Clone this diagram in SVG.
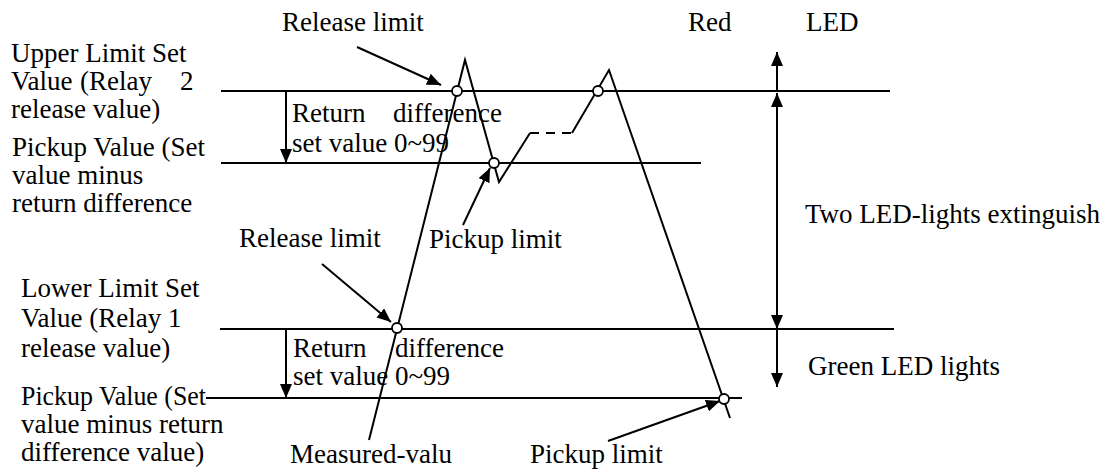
<svg xmlns="http://www.w3.org/2000/svg" width="1110" height="472" viewBox="0 0 1110 472">
<defs>
<marker id="ah" viewBox="0 0 14 12" refX="14" refY="6" markerWidth="14" markerHeight="12" markerUnits="userSpaceOnUse" orient="auto">
<path d="M0,0 L14,6 L0,12 Z" fill="#000"/>
</marker>
<style>
text{font-family:"Liberation Serif","Times New Roman",serif;font-size:27px;fill:#000}
.ln{stroke:#000;stroke-width:2;fill:none}
.ar{stroke:#000;stroke-width:2;fill:none;marker-end:url(#ah)}
.dot{fill:#fff;stroke:#000;stroke-width:1.8}
</style>
</defs>
<rect width="1110" height="472" fill="#fff"/>

<g id="levels">
<line class="ln" x1="221" y1="91" x2="890" y2="91"/>
<line class="ln" x1="221" y1="163" x2="701" y2="163"/>
<line class="ln" x1="220" y1="329" x2="894" y2="329"/>
<line class="ln" x1="206" y1="398" x2="742" y2="398"/>
</g>

<g id="labels-left">
<text x="11" y="62">Upper Limit Set</text>
<text y="90"><tspan x="11">Value</tspan><tspan x="80">(Relay</tspan><tspan x="180">2</tspan></text>
<text x="11" y="118">release value)</text>
<text x="12" y="156">Pickup Value (Set</text>
<text x="12" y="184">value minus</text>
<text x="12" y="212">return difference</text>
<text x="21" y="297">Lower Limit Set</text>
<text x="21" y="327">Value (Relay 1</text>
<text x="21" y="357">release value)</text>
<text x="21" y="405" textLength="185" lengthAdjust="spacingAndGlyphs">Pickup Value (Set</text>
<text x="21" y="433">value minus return</text>
<text x="21" y="461">difference value)</text>
</g>

<g id="diff-upper">
<text y="122"><tspan x="292">Return</tspan><tspan x="393">difference</tspan></text>
<text x="292" y="152">set value 0~99</text>
</g>
<g id="diff-lower">
<text y="357"><tspan x="293">Return</tspan><tspan x="395">difference</tspan></text>
<text x="293" y="385">set value 0~99</text>
</g>

<g id="labels-other">
<text x="282" y="31">Release limit</text>
<text x="688" y="31">Red</text>
<text x="806" y="31">LED</text>
<text x="429" y="248">Pickup limit</text>
<text x="239" y="247">Release limit</text>
<text x="805" y="223">Two LED-lights extinguish</text>
<text x="808" y="375">Green LED lights</text>
<text x="290" y="463">Measured-valu</text>
<text x="530" y="463">Pickup limit</text>
</g>

<g id="waveform">
<polyline class="ln" points="369,440 465,60 499,182 530,133"/>
<line class="ln" x1="530" y1="133" x2="572" y2="133" stroke-dasharray="9,7"/>
<polyline class="ln" points="572,133 609,70 730,418"/>
</g>

<g id="connectors">
<line class="ar" x1="286" y1="91" x2="286" y2="163"/>
<line class="ar" x1="286" y1="329" x2="286" y2="398"/>
<line class="ar" x1="777" y1="91" x2="777" y2="52"/>
<line class="ar" x1="777" y1="200" x2="777" y2="93"/>
<line class="ar" x1="777" y1="200" x2="777" y2="329"/>
<line class="ar" x1="777" y1="329" x2="777" y2="387"/>
<line class="ar" x1="357" y1="47" x2="441" y2="85"/>
<line class="ar" x1="322" y1="264" x2="391" y2="322"/>
<line class="ar" x1="463" y1="225" x2="490" y2="168"/>
<line class="ar" x1="608" y1="441" x2="720" y2="401"/>
</g>

<g id="points">
<circle class="dot" cx="457" cy="91" r="5"/>
<circle class="dot" cx="494" cy="163" r="5"/>
<circle class="dot" cx="598" cy="91" r="5"/>
<circle class="dot" cx="397" cy="328" r="5"/>
<circle class="dot" cx="724" cy="399" r="5"/>
</g>
</svg>
